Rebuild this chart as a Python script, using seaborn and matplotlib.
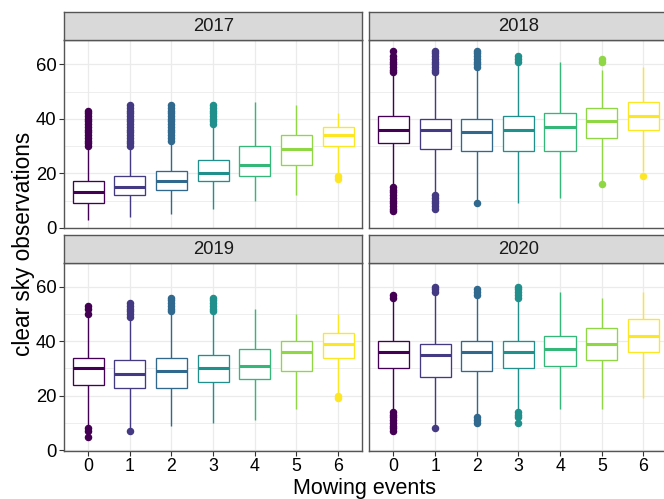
import numpy as np
import pandas as pd
import matplotlib
matplotlib.use("Agg")
import matplotlib.pyplot as plt
import seaborn as sns
from matplotlib.ticker import MultipleLocator

sns.set_style("white")
plt.rcParams["font.family"] = ["Liberation Sans", "DejaVu Sans"]

# ---------------- data ----------------
years = ["2017", "2018", "2019", "2020"]
mowing_events = ["0", "1", "2", "3", "4", "5", "6"]
y_ticks = [0, 20, 40, 60]
palette = ["#440154", "#443A83", "#31688E", "#21908C", "#35B779", "#8FD744", "#FDE725"]

# box statistics per year, one value per mowing-event class (0..6)
whisker_low_2017 = [3, 4, 5, 7, 10, 12, 20]
q1_2017 = [9, 12, 14, 17, 19, 23, 30]
median_2017 = [13, 15, 17, 20, 23, 29, 34]
q3_2017 = [17, 19, 21, 25, 30, 34, 37]
whisker_high_2017 = [29, 29, 31, 37, 46, 45, 42]
outliers_low_2017 = [[], [], [], [], [], [], [18, 19]]
outliers_high_2017 = [
    [30, 31, 32, 33, 34, 35, 36, 37, 38, 39, 40, 41, 42, 43],
    [30, 31, 32, 33, 34, 35, 36, 37, 38, 39, 40, 41, 42, 43, 44, 45],
    [32, 33, 34, 35, 36, 37, 38, 39, 40, 41, 42, 43, 44, 45],
    [38, 39, 40, 41, 42, 43, 44, 45],
    [], [], [],
]

whisker_low_2018 = [16, 13, 10, 9, 11, 17, 21]
q1_2018 = [31, 29, 28, 28, 28, 33, 36]
median_2018 = [36, 36, 35, 36, 37, 39, 41]
q3_2018 = [41, 40, 40, 41, 42, 44, 46]
whisker_high_2018 = [56, 56, 58, 60, 61, 58, 59]
outliers_low_2018 = [
    [6, 7, 8, 9, 10, 11, 12, 13, 14, 15],
    [7, 8, 9, 10, 11, 12],
    [9], [], [], [16], [19],
]
outliers_high_2018 = [
    [57, 58, 59, 60, 61, 62, 63, 65],
    [57, 58, 59, 60, 61, 62, 63, 64, 65],
    [59, 60, 61, 62, 63, 64, 65],
    [61, 62, 63],
    [], [61, 62], [],
]

whisker_low_2019 = [9, 8, 9, 10, 11, 15, 21]
q1_2019 = [24, 23, 23, 25, 26, 29, 34]
median_2019 = [30, 28, 29, 30, 31, 36, 39]
q3_2019 = [34, 33, 34, 35, 37, 40, 43]
whisker_high_2019 = [49, 48, 50, 50, 52, 50, 50]
outliers_low_2019 = [[5, 7, 8], [7], [], [], [], [], [19, 20]]
outliers_high_2019 = [
    [50, 52, 53],
    [49, 50, 51, 52, 53, 54],
    [51, 52, 53, 54, 55, 56],
    [51, 52, 53, 54, 55, 56],
    [], [], [],
]

whisker_low_2020 = [15, 9, 13, 15, 15, 15, 19]
q1_2020 = [30, 27, 29, 30, 31, 33, 36]
median_2020 = [36, 35, 36, 36, 37, 39, 42]
q3_2020 = [40, 39, 40, 40, 42, 45, 48]
whisker_high_2020 = [55, 57, 56, 55, 58, 56, 58]
outliers_low_2020 = [
    [7, 8, 9, 10, 11, 12, 13, 14],
    [8],
    [10, 11, 12],
    [10, 12, 13, 14],
    [], [], [],
]
outliers_high_2020 = [
    [56, 57],
    [58, 59, 60],
    [57, 58, 59],
    [56, 57, 58, 59, 60],
    [], [], [],
]

stats = {
    "2017": (whisker_low_2017, q1_2017, median_2017, q3_2017, whisker_high_2017,
             outliers_low_2017, outliers_high_2017),
    "2018": (whisker_low_2018, q1_2018, median_2018, q3_2018, whisker_high_2018,
             outliers_low_2018, outliers_high_2018),
    "2019": (whisker_low_2019, q1_2019, median_2019, q3_2019, whisker_high_2019,
             outliers_low_2019, outliers_high_2019),
    "2020": (whisker_low_2020, q1_2020, median_2020, q3_2020, whisker_high_2020,
             outliers_low_2020, outliers_high_2020),
}


def observations(lo, q1, med, q3, hi, lows, highs, n=60):
    """Observation set whose quartiles / whiskers / outliers equal the read values."""
    n_q3 = len(lows) + n - len(highs)
    return (list(lows) + [lo] + [q1] * n + [med] + [q3] * n_q3 + [hi] + list(highs))


rows = []
for yr in years:
    lo, q1, med, q3, hi, lows, highs = stats[yr]
    for i, m in enumerate(mowing_events):
        for v in observations(lo[i], q1[i], med[i], q3[i], hi[i], lows[i], highs[i]):
            rows.append((yr, m, float(v)))
df = pd.DataFrame(rows, columns=["year", "mowing", "obs"])

# ---------------- layout ----------------
W, H = 664, 499
fig = plt.figure(figsize=(W / 100, H / 100), dpi=100)


def rect(x0, y0, x1, y1):
    return [x0 / W, 1 - y1 / H, (x1 - x0) / W, (y1 - y0) / H]


panel_box = {
    "2017": (64, 40, 362.3, 228.3),
    "2018": (369.3, 40, 667.6, 228.3),
    "2019": (64, 262.5, 362.3, 450.7),
    "2020": (369.3, 262.5, 667.6, 450.7),
}
strip_h = 27.8
border_col = "#555555"
grid_col = "#EBEBEB"

for k, yr in enumerate(years):
    x0, y0, x1, y1 = panel_box[yr]
    ax = fig.add_axes(rect(x0, y0, x1, y1))
    sub = df[df["year"] == yr]
    sns.boxplot(data=sub, x="mowing", y="obs", hue="mowing", order=mowing_events,
                hue_order=mowing_events, palette=palette, saturation=1, width=0.75,
                whis=1.5, showcaps=False, legend=False, linewidth=1.0, fliersize=4.4,
                medianprops=dict(linewidth=2.2),
                flierprops=dict(marker="o"), ax=ax)
    # ggplot look: white-filled boxes, coloured outline / whiskers / medians / outliers
    for p in ax.patches:
        verts = p.get_path().vertices
        idx = int(round(np.mean(verts[:, 0])))
        idx = min(max(idx, 0), 6)
        p.set_facecolor("white")
        p.set_edgecolor(palette[idx])
        p.set_alpha(None)
        p.set_linewidth(0.95)
    for ln in ax.lines:
        xd = np.asarray(ln.get_xdata(), dtype=float)
        if xd.size == 0:
            continue
        idx = int(round(np.mean(xd)))
        idx = min(max(idx, 0), 6)
        ln.set_color(palette[idx])
        ln.set_markerfacecolor(palette[idx])
        ln.set_markeredgecolor(palette[idx])

    ax.set_xlim(-0.58, 6.58)
    ax.set_ylim(-0.2, 68.9)
    ax.yaxis.set_major_locator(MultipleLocator(20))
    ax.yaxis.set_minor_locator(MultipleLocator(10))
    ax.set_axisbelow(True)
    ax.grid(which="major", color=grid_col, linewidth=0.9)
    ax.grid(which="minor", axis="y", color=grid_col, linewidth=0.6)
    ax.set_xlabel("")
    ax.set_ylabel("")
    for s in ax.spines.values():
        s.set_visible(True)
        s.set_color(border_col)
        s.set_linewidth(1.0)

    left_col = k in (0, 2)
    bottom_row = k in (2, 3)
    ax.tick_params(axis="both", which="major", length=3.5, width=0.8, color="#333333",
                   labelsize=13.3, labelcolor="black", pad=2)
    ax.tick_params(axis="both", which="minor", length=0)
    ax.set_yticks(y_ticks)
    ax.tick_params(axis="y", left=left_col, labelleft=left_col)
    ax.tick_params(axis="x", bottom=bottom_row, labelbottom=bottom_row, pad=1.5,
                   labelsize=12.8)

    # facet strip
    sax = fig.add_axes(rect(x0, y0 - strip_h, x1, y0))
    sax.set_facecolor("#D9D9D9")
    sax.set_xticks([])
    sax.set_yticks([])
    for s in sax.spines.values():
        s.set_visible(True)
        s.set_color(border_col)
        s.set_linewidth(1.0)
    sax.text(0.5, 0.48, yr, ha="center", va="center", fontsize=13.3,
             color="#1A1A1A", transform=sax.transAxes)

fig.text(24 / W, 1 - 244 / H, "clear sky observations", rotation=90,
         ha="center", va="center", fontsize=16.3, color="black")
fig.text(364 / W, 1 - 494 / H, "Mowing events", ha="center", va="baseline",
         fontsize=15.5, color="black")

fig.savefig("out.png", dpi=100)
